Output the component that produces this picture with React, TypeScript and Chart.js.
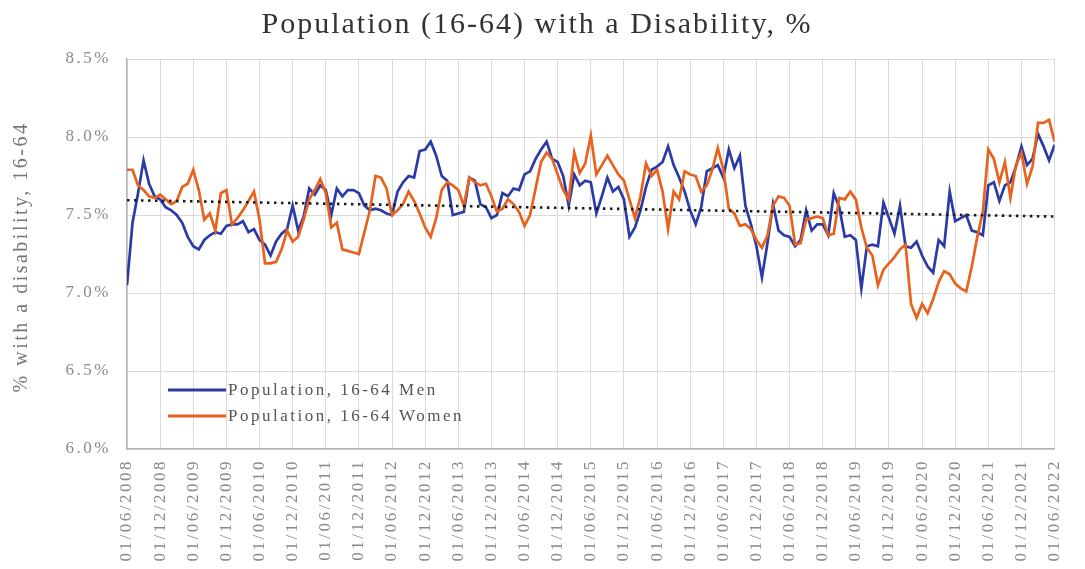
import React, { useEffect, useRef } from 'react';
import { Chart, registerables } from 'chart.js';

Chart.register(...registerables);

const chartTitle = 'Population (16-64) with a Disability, %';
const yAxisTitle = '% with a disability, 16-64';
const seriesNames = ['Population, 16-64 Men', 'Population, 16-64 Women'];

const xTickLabels = [
  '01/06/2008', '01/12/2008', '01/06/2009', '01/12/2009', '01/06/2010', '01/12/2010',
  '01/06/2011', '01/12/2011', '01/06/2012', '01/12/2012', '01/06/2013', '01/12/2013',
  '01/06/2014', '01/12/2014', '01/06/2015', '01/12/2015', '01/06/2016', '01/12/2016',
  '01/06/2017', '01/12/2017', '01/06/2018', '01/12/2018', '01/06/2019', '01/12/2019',
  '01/06/2020', '01/12/2020', '01/06/2021', '01/12/2021', '01/06/2022',
];

const yTickLabels = ['6.0%', '6.5%', '7.0%', '7.5%', '8.0%', '8.5%'];

// monthly values, June 2008 .. June 2022
const menValues = [
  7.05, 7.45, 7.64, 7.85, 7.70, 7.62, 7.60, 7.55, 7.53, 7.50,
  7.45, 7.36, 7.30, 7.28, 7.34, 7.37, 7.39, 7.38, 7.43, 7.44,
  7.44, 7.46, 7.39, 7.41, 7.34, 7.31, 7.24, 7.33, 7.38, 7.41,
  7.56, 7.40, 7.49, 7.67, 7.63, 7.69, 7.66, 7.50, 7.67, 7.62,
  7.66, 7.66, 7.64, 7.56, 7.53, 7.54, 7.53, 7.51, 7.50, 7.65,
  7.71, 7.75, 7.74, 7.91, 7.92, 7.97, 7.88, 7.75, 7.72, 7.50,
  7.51, 7.52, 7.74, 7.72, 7.57, 7.55, 7.48, 7.50, 7.64, 7.62,
  7.67, 7.66, 7.76, 7.78, 7.86, 7.92, 7.97, 7.86, 7.84, 7.75,
  7.56, 7.76, 7.69, 7.72, 7.71, 7.51, 7.62, 7.74, 7.65, 7.68,
  7.60, 7.36, 7.42, 7.53, 7.68, 7.79, 7.81, 7.84, 7.94, 7.82,
  7.74, 7.65, 7.53, 7.44, 7.55, 7.78, 7.80, 7.82, 7.74, 7.92,
  7.80, 7.88, 7.56, 7.44, 7.30, 7.10, 7.32, 7.57, 7.40, 7.37,
  7.36, 7.30, 7.34, 7.53, 7.40, 7.44, 7.44, 7.37, 7.64, 7.55,
  7.36, 7.37, 7.34, 7.03, 7.30, 7.31, 7.30, 7.58, 7.48, 7.38,
  7.56, 7.30, 7.29, 7.33, 7.24, 7.17, 7.13, 7.34, 7.30, 7.65,
  7.46, 7.48, 7.50, 7.40, 7.39, 7.37, 7.69, 7.71, 7.59, 7.69,
  7.71, 7.81, 7.94, 7.82, 7.86, 8.02, 7.94, 7.85, 7.95,
];

const womenValues = [
  7.79, 7.79, 7.69, 7.66, 7.62, 7.61, 7.63, 7.60, 7.57, 7.59,
  7.68, 7.70, 7.79, 7.66, 7.47, 7.51, 7.40, 7.64, 7.66, 7.44,
  7.48, 7.53, 7.59, 7.65, 7.47, 7.19, 7.19, 7.20, 7.28, 7.40,
  7.33, 7.36, 7.47, 7.60, 7.66, 7.73, 7.64, 7.42, 7.45, 7.28,
  7.27, 7.26, 7.25, 7.39, 7.53, 7.75, 7.74, 7.67, 7.50, 7.53,
  7.57, 7.65, 7.59, 7.51, 7.42, 7.36, 7.48, 7.66, 7.71, 7.69,
  7.66, 7.56, 7.74, 7.71, 7.69, 7.70, 7.62, 7.52, 7.54, 7.60,
  7.57, 7.52, 7.43, 7.50, 7.67, 7.84, 7.90, 7.86, 7.76, 7.66,
  7.60, 7.90, 7.77, 7.83, 8.01, 7.76, 7.82, 7.88, 7.82, 7.76,
  7.72, 7.60, 7.48, 7.62, 7.83, 7.75, 7.79, 7.65, 7.41, 7.65,
  7.60, 7.78, 7.76, 7.75, 7.65, 7.69, 7.79, 7.93, 7.79, 7.54,
  7.51, 7.43, 7.44, 7.41, 7.34, 7.29, 7.37, 7.56, 7.62, 7.61,
  7.56, 7.31, 7.32, 7.47, 7.48, 7.49, 7.48, 7.37, 7.38, 7.61,
  7.60, 7.65, 7.60, 7.42, 7.29, 7.24, 7.05, 7.15, 7.19, 7.23,
  7.28, 7.31, 6.93, 6.84, 6.93, 6.87, 6.96, 7.07, 7.14, 7.12,
  7.06, 7.03, 7.01, 7.17, 7.36, 7.52, 7.92, 7.86, 7.71, 7.84,
  7.61, 7.82, 7.90, 7.70, 7.81, 8.09, 8.09, 8.11, 7.97,
];

// dotted trend line: value at first and last month
const trendValues = [7.595, 7.49];

const MEN_COLOR = '#2a3aa6';
const WOMEN_COLOR = '#e8611d';
const FONT = '"Liberation Serif", "Times New Roman", serif';

const decorPlugin = {
  id: 'decor',
  beforeDraw(chart: any) {
    (chart.ctx as any).letterSpacing = '2.5px';
  },
  afterDraw(chart: any) {
    const ctx = chart.ctx as any;
    const area = chart.chartArea;
    ctx.save();
    // title
    ctx.letterSpacing = '2px';
    ctx.font = `30px ${FONT}`;
    ctx.fillStyle = '#333333';
    ctx.textAlign = 'center';
    ctx.textBaseline = 'alphabetic';
    ctx.fillText(chartTitle, 537, 33);

    // y axis title
    ctx.save();
    ctx.translate(22, (area.top + area.bottom) / 2 + 3);
    ctx.rotate(-Math.PI / 2);
    ctx.letterSpacing = '2.5px';
    ctx.font = `20px ${FONT}`;
    ctx.fillStyle = '#777777';
    ctx.textAlign = 'center';
    ctx.textBaseline = 'middle';
    ctx.fillText(yAxisTitle, 0, 0);
    ctx.restore();

    // legend
    const colors = [MEN_COLOR, WOMEN_COLOR];
    const ys = [390, 416];
    ctx.letterSpacing = '2.5px';
    ctx.font = `17px ${FONT}`;
    ctx.textAlign = 'left';
    ctx.textBaseline = 'middle';
    for (let i = 0; i < 2; i++) {
      ctx.strokeStyle = colors[i];
      ctx.lineWidth = 3;
      ctx.beginPath();
      ctx.moveTo(168, ys[i]);
      ctx.lineTo(226, ys[i]);
      ctx.stroke();
      ctx.fillStyle = '#555555';
      ctx.fillText(seriesNames[i], 228, ys[i] + 1);
    }
    ctx.restore();
  },
};

export default function App() {
  const canvasRef = useRef<HTMLCanvasElement | null>(null);

  useEffect(() => {
    const canvas = canvasRef.current;
    if (!canvas) return;
    const last = menValues.length - 1;
    const chart = new Chart(canvas, {
      type: 'line',
      data: {
        datasets: [
          {
            label: 'Trend',
            data: [
              { x: 0, y: trendValues[0] },
              { x: last, y: trendValues[1] },
            ],
            borderColor: '#1a1a1a',
            borderWidth: 2.6,
            borderDash: [2.5, 4.5],
            pointRadius: 0,
            fill: false,
          },
          {
            label: seriesNames[1],
            data: womenValues.map((v, i) => ({ x: i, y: v })),
            borderColor: WOMEN_COLOR,
            borderWidth: 2.7,
            pointRadius: 0,
            tension: 0,
            fill: false,
          },
          {
            label: seriesNames[0],
            data: menValues.map((v, i) => ({ x: i, y: v })),
            borderColor: MEN_COLOR,
            borderWidth: 2.7,
            pointRadius: 0,
            tension: 0,
            fill: false,
          },
        ],
      },
      options: {
        animation: false,
        responsive: false,
        devicePixelRatio: 1,
        layout: { padding: { top: 59, right: 12, left: 0, bottom: 0 } },
        plugins: {
          legend: { display: false },
          title: { display: false },
          tooltip: { enabled: false },
        },
        scales: {
          x: {
            type: 'linear',
            min: 0,
            max: last,
            afterFit: (scale: any) => {
              scale.height = 120;
            },
            grid: { color: '#dadada', lineWidth: 1, drawTicks: false },
            border: { color: '#b5b5b5', width: 1.5 },
            ticks: {
              stepSize: 6,
              autoSkip: false,
              minRotation: 90,
              maxRotation: 90,
              padding: 10,
              color: '#8a8a8a',
              font: { family: FONT, size: 17 },
              callback: (v: any) => xTickLabels[Math.round(Number(v) / 6)] ?? '',
            },
          },
          y: {
            type: 'linear',
            min: 6.0,
            max: 8.5,
            afterFit: (scale: any) => {
              scale.width = 127;
            },
            grid: { color: '#dadada', lineWidth: 1, drawTicks: false },
            border: { color: '#b5b5b5', width: 1.5 },
            ticks: {
              stepSize: 0.5,
              padding: 16,
              color: '#8a8a8a',
              font: { family: FONT, size: 17 },
              callback: (v: any) => yTickLabels[Math.round((Number(v) - 6) / 0.5)] ?? '',
            },
          },
        },
      },
      plugins: [decorPlugin],
    } as any);
    return () => chart.destroy();
  }, []);

  return (
    <div style={{ position: 'fixed', left: 0, top: 0, width: 1085, height: 569, background: '#ffffff' }}>
      <canvas ref={canvasRef} width={1085} height={569} style={{ display: 'block' }} />
    </div>
  );
}
